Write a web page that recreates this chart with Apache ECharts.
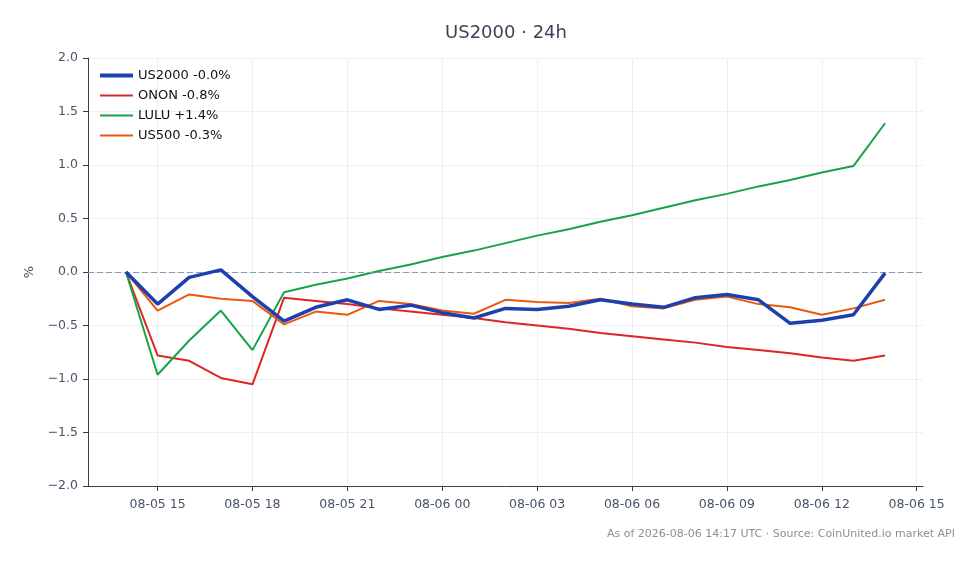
<!DOCTYPE html>
<html>
<head>
<meta charset="utf-8">
<title>US2000 · 24h</title>
<script src="https://cdn.jsdelivr.net/npm/echarts@6/dist/echarts.min.js"></script>
<style>
  html, body { margin: 0; padding: 0; background: #fff; }
  #chart { width: 979px; height: 564px; }
</style>
</head>
<body>
<div id="chart"></div>
<script>
// hourly points, UTC
const times = [
  '2026-08-05T14:00Z', '2026-08-05T15:00Z', '2026-08-05T16:00Z', '2026-08-05T17:00Z',
  '2026-08-05T18:00Z', '2026-08-05T19:00Z', '2026-08-05T20:00Z', '2026-08-05T21:00Z',
  '2026-08-05T22:00Z', '2026-08-05T23:00Z', '2026-08-06T00:00Z', '2026-08-06T01:00Z',
  '2026-08-06T02:00Z', '2026-08-06T03:00Z', '2026-08-06T04:00Z', '2026-08-06T05:00Z',
  '2026-08-06T06:00Z', '2026-08-06T07:00Z', '2026-08-06T08:00Z', '2026-08-06T09:00Z',
  '2026-08-06T10:00Z', '2026-08-06T11:00Z', '2026-08-06T12:00Z', '2026-08-06T13:00Z',
  '2026-08-06T14:00Z'
];

const us2000 = [0, -0.30, -0.05, 0.02, -0.23, -0.46, -0.33, -0.26, -0.35, -0.31, -0.38, -0.43,
  -0.34, -0.35, -0.32, -0.26, -0.30, -0.33, -0.24, -0.21, -0.26, -0.48, -0.45, -0.40, -0.01];
const onon = [0, -0.78, -0.83, -0.99, -1.05, -0.24, -0.27, -0.30, -0.34, -0.37, -0.40, -0.43,
  -0.47, -0.50, -0.53, -0.57, -0.60, -0.63, -0.66, -0.70, -0.73, -0.76, -0.80, -0.83, -0.78];
const lulu = [0, -0.96, -0.64, -0.36, -0.73, -0.19, -0.12, -0.06, 0.01, 0.07, 0.14, 0.20,
  0.27, 0.34, 0.40, 0.47, 0.53, 0.60, 0.67, 0.73, 0.80, 0.86, 0.93, 0.99, 1.39];
const us500 = [0, -0.36, -0.21, -0.25, -0.27, -0.49, -0.37, -0.40, -0.27, -0.30, -0.36, -0.39,
  -0.26, -0.28, -0.29, -0.25, -0.32, -0.34, -0.26, -0.23, -0.30, -0.33, -0.40, -0.34, -0.26];

const names = ['US2000 -0.0%', 'ONON -0.8%', 'LULU +1.4%', 'US500 -0.3%'];
const colors = ['#1e40af', '#dc2626', '#16a34a', '#ea580c'];
const widths = [3.5, 2, 2, 2];

const tickTimes = [
  '2026-08-05T15:00Z', '2026-08-05T18:00Z', '2026-08-05T21:00Z', '2026-08-06T00:00Z',
  '2026-08-06T03:00Z', '2026-08-06T06:00Z', '2026-08-06T09:00Z', '2026-08-06T12:00Z',
  '2026-08-06T15:00Z'
];

const ts = times.map(t => Date.parse(t));
const ticks = tickTimes.map(t => Date.parse(t));
// 5% padding either side, like the original plot
const span = ts[ts.length - 1] - ts[0];
const xMin = ts[0] - span * 0.05;
const xMax = ts[ts.length - 1] + span * 0.05;

const pad = n => String(n).padStart(2, '0');
const fmtTime = v => {
  const d = new Date(v);
  return pad(d.getUTCMonth() + 1) + '-' + pad(d.getUTCDate()) + ' ' + pad(d.getUTCHours());
};
const fmtPct = v => (v < 0 ? '\u2212' : '') + Math.abs(v).toFixed(1);

const axisColor = '#334155';
const labelColor = '#475569';
const gridColor = '#eceff3';
const font = 'DejaVu Sans';

const mkSeries = (name, vals, color, width) => ({
  name: name,
  type: 'line',
  data: vals.map((v, i) => [ts[i], v]),
  symbol: 'none',
  smooth: false,
  lineStyle: { color: color, width: width },
  itemStyle: { color: color },
  z: width > 3 ? 5 : 3
});

const chart = echarts.init(document.getElementById('chart'));
const series = [
  mkSeries(names[0], us2000, colors[0], widths[0]),
  mkSeries(names[1], onon, colors[1], widths[1]),
  mkSeries(names[2], lulu, colors[2], widths[2]),
  mkSeries(names[3], us500, colors[3], widths[3]),
  // zero reference line, kept out of the legend
  {
    name: 'zero',
    type: 'line',
    data: [],
    silent: true,
    z: 1,
    markLine: {
      silent: true,
      symbol: 'none',
      label: { show: false },
      lineStyle: { color: '#8b9ab5', type: [6, 3], width: 1.2, opacity: 1 },
      emphasis: { disabled: true },
      data: [{ yAxis: 0 }]
    }
  }
];

chart.setOption({
  animation: false,
  textStyle: { fontFamily: font },
  title: {
    text: 'US2000 · 24h',
    left: 501,
    textAlign: 'center',
    top: 19,
    textStyle: { fontFamily: font, fontSize: 18, fontWeight: 'normal', color: '#3b4555' }
  },
  legend: {
    orient: 'vertical',
    left: 98,
    top: 69,
    padding: 0,
    itemWidth: 33,
    itemHeight: 14,
    itemGap: 7,
    itemStyle: { opacity: 0 },
    textStyle: { fontFamily: font, fontSize: 13, color: '#111' },
    data: names.map((n, i) => ({ name: n, lineStyle: { width: i === 0 ? 4 : 2.2 } }))
  },
  grid: { left: 88, right: 56, top: 58, bottom: 78, containLabel: false },
  xAxis: {
    type: 'value',
    min: xMin,
    max: xMax,
    scale: true,
    axisLine: { onZero: false, lineStyle: { color: axisColor, width: 1 } },
    axisTick: { show: true, length: 5, customValues: ticks, lineStyle: { color: axisColor } },
    axisLabel: {
      customValues: ticks,
      formatter: v => fmtTime(v),
      color: labelColor,
      fontSize: 12.5,
      margin: 12,
      fontFamily: font
    },
    splitLine: { show: true, lineStyle: { color: gridColor, width: 1 } }
  },
  yAxis: {
    type: 'value',
    min: -2,
    max: 2,
    interval: 0.5,
    name: '%',
    nameLocation: 'middle',
    nameRotate: 90,
    nameGap: 52,
    nameTextStyle: { color: labelColor, fontSize: 13, fontFamily: font },
    axisLine: { show: true, onZero: false, lineStyle: { color: axisColor, width: 1 } },
    axisTick: { show: true, length: 5, lineStyle: { color: axisColor } },
    axisLabel: { formatter: v => fmtPct(v), color: labelColor, fontSize: 12.5, margin: 10, fontFamily: font },
    splitLine: { show: true, lineStyle: { color: gridColor, width: 1 } }
  },
  graphic: [{
    type: 'text',
    right: 24,
    top: 529,
    style: {
      text: 'As of 2026-08-06 14:17 UTC · Source: CoinUnited.io market API',
      fill: '#8a8f98',
      font: '11px "DejaVu Sans"'
    }
  }],
  series: series
});
</script>
</body>
</html>
